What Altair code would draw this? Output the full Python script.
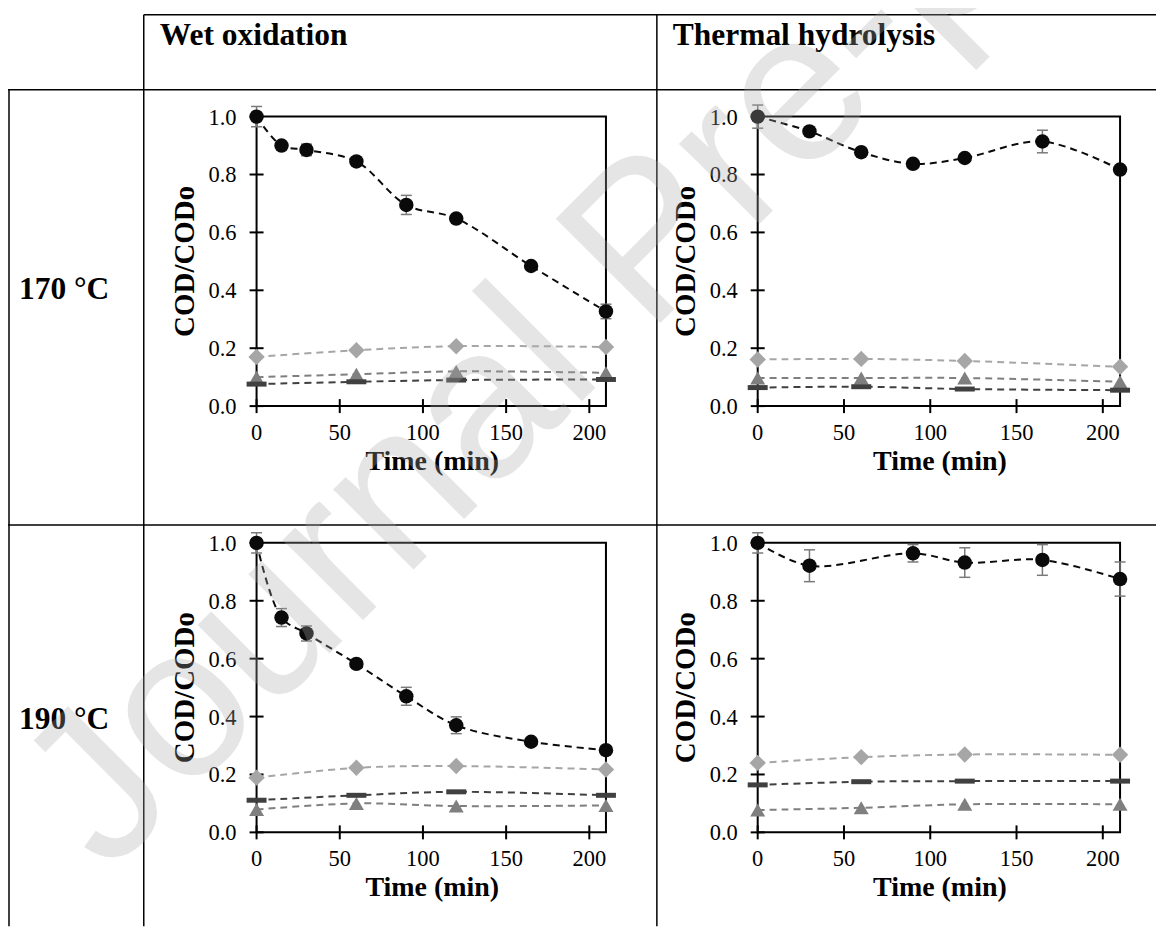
import altair as alt
import pandas as pd

# ------------------------------------------------------------------ data
COLUMN_TITLES = ["Wet oxidation", "Thermal hydrolysis"]
ROW_TITLES = ["170 °C", "190 °C"]
X_TITLE = "Time (min)"
Y_TITLE = "COD/CODo"
X_TICKS = [0, 50, 100, 150, 200]
Y_TICKS = [0.0, 0.2, 0.4, 0.6, 0.8, 1.0]
WATERMARK = "Journal Pre-proof"

# times of the three minor series (all panels)
T_MINOR = [0, 60, 120, 210]

# Wet oxidation, 170 °C
WO170_T = [0, 15, 30, 60, 90, 120, 165, 210]
WO170_COD = [1.00, 0.900, 0.885, 0.845, 0.695, 0.648, 0.484, 0.327]
WO170_ERR = [0.035, 0.010, 0.020, 0.010, 0.033, 0.010, 0.010, 0.025]
WO170_DIAMOND = [0.170, 0.193, 0.207, 0.204]
WO170_TRIANGLE = [0.100, 0.110, 0.120, 0.115]
WO170_DASH = [0.076, 0.084, 0.090, 0.092]

# Thermal hydrolysis, 170 °C
TH170_T = [0, 30, 60, 90, 120, 165, 210]
TH170_COD = [1.00, 0.949, 0.877, 0.837, 0.857, 0.914, 0.817]
TH170_ERR = [0.040, 0.010, 0.010, 0.010, 0.010, 0.039, 0.010]
TH170_DIAMOND = [0.161, 0.163, 0.156, 0.136]
TH170_TRIANGLE = [0.097, 0.097, 0.097, 0.084]
TH170_DASH = [0.064, 0.067, 0.059, 0.055]

# Wet oxidation, 190 °C
WO190_T = [0, 15, 30, 60, 90, 120, 165, 210]
WO190_COD = [1.00, 0.742, 0.687, 0.582, 0.470, 0.370, 0.313, 0.284]
WO190_ERR = [0.035, 0.031, 0.026, 0.010, 0.031, 0.029, 0.010, 0.010]
WO190_DIAMOND = [0.189, 0.223, 0.229, 0.217]
WO190_TRIANGLE = [0.079, 0.100, 0.091, 0.093]
WO190_DASH = [0.111, 0.128, 0.140, 0.128]

# Thermal hydrolysis, 190 °C
TH190_T = [0, 30, 90, 120, 165, 210]
TH190_COD = [1.00, 0.921, 0.964, 0.932, 0.941, 0.875]
TH190_ERR = [0.035, 0.055, 0.030, 0.051, 0.053, 0.059]
TH190_DIAMOND = [0.240, 0.260, 0.269, 0.268]
TH190_TRIANGLE = [0.077, 0.085, 0.097, 0.097]
TH190_DASH = [0.164, 0.175, 0.177, 0.177]

# ------------------------------------------------------------------ style
W, H = 1150, 919
SERIF = "Liberation Serif"
SANS = "Liberation Sans"
COLORS = ["#0a0a0a", "#a6a6a6", "#7f7f7f", "#404040"]
SHAPES = ["circle", "diamond", "triangle-up", "M-1,-0.25L1,-0.25L1,0.25L-1,0.25Z"]
SIZES = [210, 270, 225, 400]
DASH = [7, 5]
ERR_COLOR = "#7a7a7a"
LABEL_SIZE = 22.5


def one():
    return alt.Data(values=[{"k": 0}])


def panel(t, cod, err, diamond, triangle, dash, x0, x1, ytop, ybot):
    xs = alt.Scale(domain=[0, 210], range=[x0, x1], nice=False, zero=False)
    ys = alt.Scale(domain=[0, 1], range=[ybot, ytop], nice=False, zero=False)
    X = lambda f: alt.X(f, scale=xs, axis=None)
    Y = lambda f: alt.Y(f, scale=ys, axis=None)
    XD = lambda d: alt.X(datum=d, scale=xs, axis=None, type="quantitative")
    YD = lambda d: alt.Y(datum=d, scale=ys, axis=None, type="quantitative")

    main = pd.DataFrame({"t": t, "v": cod, "err": err})
    main["lo"] = main["v"] - main["err"]
    main["hi"] = main["v"] + main["err"]
    minor_vals = [diamond, triangle, dash]
    xt = pd.DataFrame({"xtick": X_TICKS})
    yt = pd.DataFrame({"ytick": Y_TICKS})

    layers = []
    # plot frame (axis lines + top/right border)
    layers.append(
        alt.Chart(one()).mark_rect(fillOpacity=0, stroke="black", strokeWidth=2).encode(
            x=XD(0), x2=alt.X2(datum=210), y=YD(0), y2=alt.Y2(datum=1)
        )
    )
    # crossing tick marks
    layers.append(
        alt.Chart(xt).mark_tick(
            orient="vertical", size=14, thickness=2, color="black", opacity=1
        ).encode(x=X("xtick:Q"), y=YD(0))
    )
    layers.append(
        alt.Chart(yt).mark_tick(
            orient="horizontal", size=14, thickness=2, color="black", opacity=1
        ).encode(y=Y("ytick:Q"), x=XD(0))
    )
    # tick labels
    layers.append(
        alt.Chart(xt).mark_text(
            font=SERIF, fontSize=LABEL_SIZE, color="black", align="center",
            baseline="alphabetic", dy=34
        ).encode(x=X("xtick:Q"), y=YD(0), text=alt.Text("xtick:Q", format="d"))
    )
    layers.append(
        alt.Chart(yt).mark_text(
            font=SERIF, fontSize=LABEL_SIZE, color="black", align="right",
            baseline="middle", dx=-20, dy=1
        ).encode(y=Y("ytick:Q"), x=XD(0), text=alt.Text("ytick:Q", format=".1f"))
    )
    # axis titles
    layers.append(
        alt.Chart(one()).mark_text(
            text=X_TITLE, font=SERIF, fontSize=28, fontWeight="bold", color="black",
            align="center", baseline="alphabetic"
        ).encode(x=alt.value((x0 + x1) / 2 + 1), y=alt.value(ybot + 64))
    )
    layers.append(
        alt.Chart(one()).mark_text(
            text=Y_TITLE, font=SERIF, fontSize=29, fontWeight="bold", color="black",
            align="center", baseline="alphabetic", angle=270
        ).encode(x=alt.value(x0 - 63), y=alt.value((ytop + ybot) / 2))
    )
    # minor series lines
    for i, vals in enumerate(minor_vals, start=1):
        df = pd.DataFrame({"t": T_MINOR, "v": vals})
        layers.append(
            alt.Chart(df).mark_line(
                strokeDash=DASH, strokeWidth=2, color=COLORS[i], interpolate="catmull-rom"
            ).encode(x=X("t:Q"), y=Y("v:Q"))
        )
    # main line
    layers.append(
        alt.Chart(main).mark_line(
            strokeDash=DASH, strokeWidth=2, color=COLORS[0], interpolate="catmull-rom"
        ).encode(x=X("t:Q"), y=Y("v:Q"))
    )
    # error bars
    layers.append(
        alt.Chart(main).mark_rule(color=ERR_COLOR, strokeWidth=1.5).encode(
            x=X("t:Q"), y=Y("lo:Q"), y2="hi:Q"
        )
    )
    layers.append(
        alt.Chart(main).transform_fold(["lo", "hi"], as_=["end", "ev"]).mark_tick(
            orient="horizontal", size=11, thickness=1.5, color=ERR_COLOR, opacity=1
        ).encode(x=X("t:Q"), y=Y("ev:Q"))
    )
    # minor series markers
    for i, vals in enumerate(minor_vals, start=1):
        df = pd.DataFrame({"t": T_MINOR, "v": vals})
        layers.append(
            alt.Chart(df).mark_point(
                shape=SHAPES[i], size=SIZES[i], filled=True, opacity=1, color=COLORS[i]
            ).encode(x=X("t:Q"), y=Y("v:Q"))
        )
    # main markers
    layers.append(
        alt.Chart(main).mark_point(
            shape=SHAPES[0], size=SIZES[0], filled=True, opacity=1, color=COLORS[0]
        ).encode(x=X("t:Q"), y=Y("v:Q"))
    )
    return alt.layer(*layers)


def hline(y, xa, xb, w=1.5):
    return alt.Chart(one()).mark_rule(color="black", strokeWidth=w).encode(
        x=alt.value(xa), x2=alt.value(xb), y=alt.value(y)
    )


def vline(x, ya, yb, w=1.5):
    return alt.Chart(one()).mark_rule(color="black", strokeWidth=w).encode(
        x=alt.value(x), y=alt.value(ya), y2=alt.value(yb)
    )


def label(txt, x, y, size=31.5):
    return alt.Chart(one()).mark_text(
        text=txt, font=SERIF, fontSize=size, fontWeight="bold", align="left",
        baseline="alphabetic", color="black"
    ).encode(x=alt.value(x), y=alt.value(y))


table = [
    hline(6, 136, W),
    hline(81, 0, W),
    hline(517, 0, W),
    vline(1, 81, H),
    vline(136, 6, H),
    vline(650, 6, H),
    label(COLUMN_TITLES[0], 152, 36),
    label(COLUMN_TITLES[1], 666, 36),
    label(ROW_TITLES[0], 11, 291),
    label(ROW_TITLES[1], 11, 721),
]

p1 = panel(WO170_T, WO170_COD, WO170_ERR, WO170_DIAMOND, WO170_TRIANGLE, WO170_DASH,
           249, 599, 108, 398)
p2 = panel(TH170_T, TH170_COD, TH170_ERR, TH170_DIAMOND, TH170_TRIANGLE, TH170_DASH,
           751, 1114, 108, 398)
p3 = panel(WO190_T, WO190_COD, WO190_ERR, WO190_DIAMOND, WO190_TRIANGLE, WO190_DASH,
           249, 599, 535, 825)
p4 = panel(TH190_T, TH190_COD, TH190_ERR, TH190_DIAMOND, TH190_TRIANGLE, TH190_DASH,
           751, 1114, 535, 825)

watermark = alt.Chart(one()).mark_text(
    text=WATERMARK, font=SANS, fontSize=215, angle=315, color="#aaaaaa",
    opacity=0.3, align="left", baseline="alphabetic"
).encode(x=alt.value(100), y=alt.value(868))

chart = alt.layer(*table, p1, p2, p3, p4, watermark).resolve_scale(
    x="independent", y="independent"
).properties(
    width=W, height=H, padding=0, autosize=alt.AutoSizeParams(type="none")
).configure_view(stroke=None)

chart.save("out.html", embed_options={"renderer": "svg", "actions": False})
